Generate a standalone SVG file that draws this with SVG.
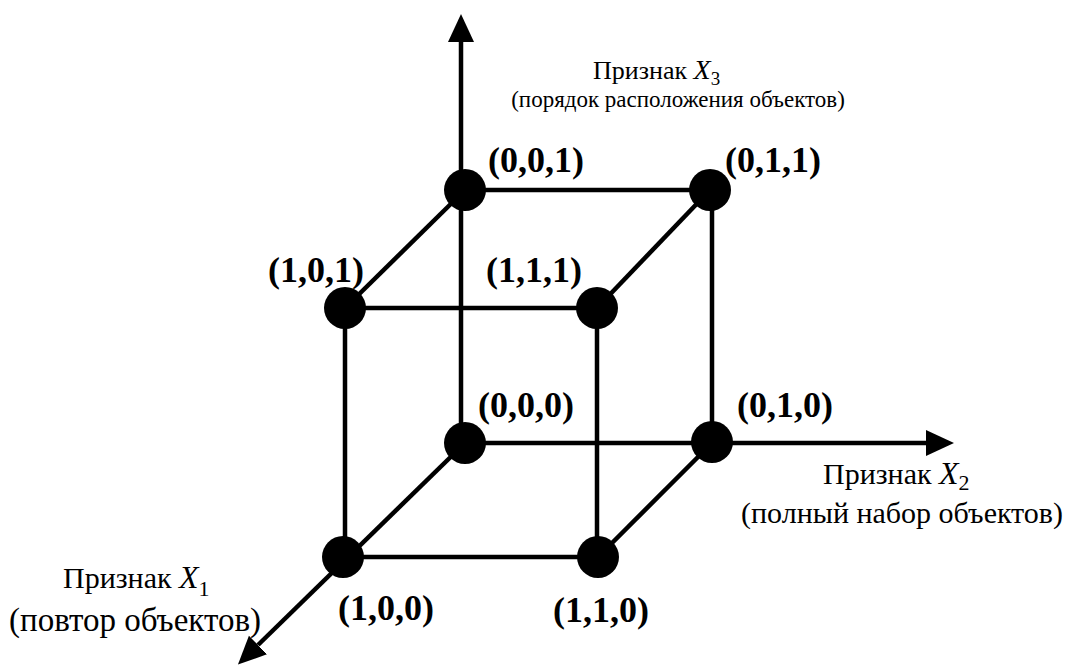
<svg xmlns="http://www.w3.org/2000/svg" width="1075" height="666" viewBox="0 0 1075 666">
<style>
.e{stroke:#000;stroke-width:4.5;fill:none}
.n{fill:#000}
.lb{font-family:"Liberation Serif","Times New Roman",serif;font-weight:bold;font-size:36px;fill:#000}
.t{font-family:"Liberation Serif","Times New Roman",serif;fill:#000}
.x{font-style:italic}
</style>
<defs>
<marker id="ah" markerUnits="userSpaceOnUse" markerWidth="30" markerHeight="28" refX="0" refY="13" orient="auto">
<path d="M0,0 L28,13 L0,26 z" fill="#000"/>
</marker>
</defs>
<rect width="1075" height="666" fill="#fff"/>
<g id="connectors">
<line class="e" x1="461" y1="443" x2="461" y2="42" marker-end="url(#ah)"/>
<line class="e" x1="461" y1="443" x2="926" y2="443" marker-end="url(#ah)"/>
<line class="e" x1="465" y1="443" x2="258" y2="645" marker-end="url(#ah)"/>
<line class="e" x1="465" y1="190" x2="710" y2="190"/>
<line class="e" x1="465" y1="190" x2="345" y2="308"/>
<line class="e" x1="710" y1="190" x2="597" y2="308"/>
<line class="e" x1="345" y1="308" x2="597" y2="308"/>
<line class="e" x1="345" y1="308" x2="345" y2="557"/>
<line class="e" x1="597" y1="308" x2="597" y2="557"/>
<line class="e" x1="712" y1="190" x2="712" y2="443"/>
<line class="e" x1="343" y1="557" x2="598" y2="557"/>
<line class="e" x1="712" y1="443" x2="598" y2="557"/>
</g>
<g id="n001"><circle class="n" cx="465" cy="190" r="21"/><text class="lb" x="488" y="172">(0,0,1)</text></g>
<g id="n011"><circle class="n" cx="710" cy="190" r="21"/><text class="lb" x="725" y="172">(0,1,1)</text></g>
<g id="n101"><circle class="n" cx="345" cy="308" r="21"/><text class="lb" x="268" y="282">(1,0,1)</text></g>
<g id="n111"><circle class="n" cx="597" cy="308" r="21"/><text class="lb" x="486" y="282">(1,1,1)</text></g>
<g id="n000"><circle class="n" cx="465" cy="443" r="21"/><text class="lb" x="478" y="417">(0,0,0)</text></g>
<g id="n010"><circle class="n" cx="712" cy="442" r="21"/><text class="lb" x="737" y="417">(0,1,0)</text></g>
<g id="n100"><circle class="n" cx="343" cy="557" r="21"/><text class="lb" x="338" y="620">(1,0,0)</text></g>
<g id="n110"><circle class="n" cx="598" cy="557" r="21"/><text class="lb" x="553" y="622">(1,1,0)</text></g>
<g id="axis3" class="t">
<text x="593" y="79" font-size="26">Признак <tspan class="x" font-size="28">X</tspan><tspan font-size="19" dy="6">3</tspan></text>
<text x="678" y="107" text-anchor="middle" font-size="23">(порядок расположения объектов)</text>
</g>
<g id="axis2" class="t" font-size="30">
<text x="823" y="484">Признак <tspan class="x" font-size="32">X</tspan><tspan font-size="22" dy="6">2</tspan></text>
<text x="1063" y="523" text-anchor="end">(полный набор объектов)</text>
</g>
<g id="axis1" class="t">
<text x="63" y="588" font-size="30">Признак <tspan class="x" font-size="32">X</tspan><tspan font-size="22" dy="8">1</tspan></text>
<text x="9" y="631" font-size="33">(повтор объектов)</text>
</g>
</svg>
